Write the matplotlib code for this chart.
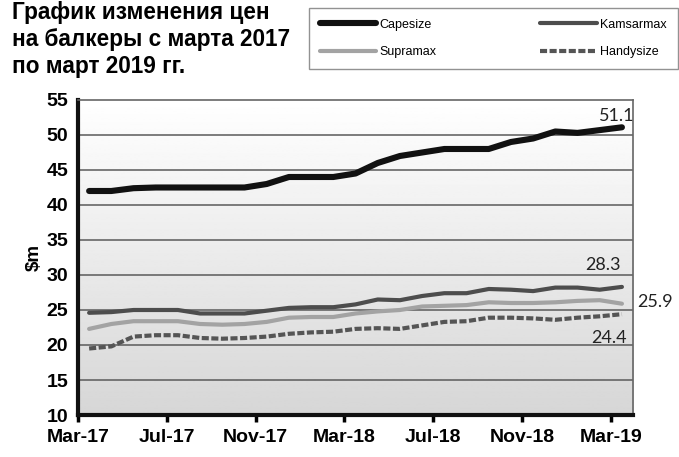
import numpy as np
import matplotlib
matplotlib.use('Agg')
from matplotlib import pyplot as plt

# months since Mar-17 (points sit mid-month)
months = np.arange(25) + 0.5
tick_pos = [0, 4, 8, 12, 16, 20, 24]
tick_labels = ['Mar-17', 'Jul-17', 'Nov-17', 'Mar-18', 'Jul-18', 'Nov-18', 'Mar-19']

capesize = [42.0, 42.0, 42.4, 42.5, 42.5, 42.5, 42.5, 42.5, 43.0, 44.0, 44.0, 44.0, 44.5,
            46.0, 47.0, 47.5, 48.0, 48.0, 48.0, 49.0, 49.5, 50.5, 50.3, 50.7, 51.1]
kamsarmax = [24.6, 24.7, 25.0, 25.0, 25.0, 24.5, 24.5, 24.5, 24.9, 25.3, 25.4, 25.4, 25.8,
             26.5, 26.4, 27.0, 27.4, 27.4, 28.0, 27.9, 27.7, 28.2, 28.2, 27.9, 28.3]
supramax = [22.3, 23.0, 23.4, 23.4, 23.4, 23.0, 22.9, 23.0, 23.3, 23.9, 24.0, 24.0, 24.5,
            24.8, 25.0, 25.5, 25.6, 25.7, 26.1, 26.0, 26.0, 26.1, 26.3, 26.4, 25.9]
handysize = [19.5, 19.8, 21.2, 21.4, 21.4, 21.0, 20.9, 21.0, 21.2, 21.6, 21.8, 21.9, 22.3,
             22.4, 22.3, 22.8, 23.3, 23.4, 23.9, 23.9, 23.8, 23.6, 23.9, 24.1, 24.4]

title = 'График изменения цен\nна балкеры с марта 2017\nпо март 2019 гг.'

plt.rcParams['font.family'] = ['Liberation Sans', 'DejaVu Sans']

fig = plt.figure(figsize=(6.79, 4.57), dpi=100)
ax = fig.add_axes([0.1149, 0.0919, 0.8174, 0.6893])

# plot area gradient, white on top to light gray at the bottom
grad = np.linspace(1.0, 0.84, 256).reshape(-1, 1)
ax.imshow(grad, extent=[0, 25, 10, 55], aspect='auto', cmap='gray', vmin=0, vmax=1,
          origin='upper', zorder=0)

for y in range(15, 55, 5):
    ax.axhline(y, color='#5a5a5a', lw=1.1, zorder=1)

l_cape, = ax.plot(months, capesize, color='#111111', lw=4.4, solid_capstyle='round', label='Capesize', zorder=5)
l_kams, = ax.plot(months, kamsarmax, color='#4d4d4d', lw=3.0, solid_capstyle='round', label='Kamsarmax', zorder=4)
l_supr, = ax.plot(months, supramax, color='#a3a3a3', lw=3.0, solid_capstyle='round', label='Supramax', zorder=3)
l_handy, = ax.plot(months, handysize, color='#555555', lw=3.0, ls=(0, (1.7, 0.6)), label='Handysize', zorder=3)

ax.set_xlim(0, 25)
ax.set_ylim(10, 55)
ax.set_yticks(range(10, 60, 5))
ax.set_xticks(tick_pos)
ax.set_xticklabels(tick_labels)
ax.tick_params(axis='x', direction='out', length=5, width=2.5, pad=5, labelsize=14)
ax.tick_params(axis='y', length=0, pad=7, labelsize=14)
for lab in ax.get_xticklabels() + ax.get_yticklabels():
    lab.set_fontweight('bold')

for side in ['left', 'bottom']:
    ax.spines[side].set_linewidth(3)
    ax.spines[side].set_color('#111111')
for side in ['top', 'right']:
    ax.spines[side].set_linewidth(1.2)
    ax.spines[side].set_color('#666666')

ax.set_ylabel('$m', fontsize=13.5, fontweight='bold', labelpad=3)

# end-of-series labels
lab_font = dict(fontsize=13, family=['Lato', 'DejaVu Sans'], color='#222222')
ax.annotate(f'{capesize[-1]}', (months[-1], capesize[-1]), xytext=(-4, 8), textcoords='offset points',
            ha='center', va='center', **lab_font)
ax.annotate(f'{kamsarmax[-1]}', (months[-1], kamsarmax[-1]), xytext=(-14, 16), textcoords='offset points',
            ha='center', va='center', **lab_font)
ax.annotate(f'{supramax[-1]}', (months[-1], supramax[-1]), xytext=(11, 1), textcoords='offset points',
            ha='left', va='center', annotation_clip=False, **lab_font)
ax.annotate(f'{handysize[-1]}', (months[-1], handysize[-1]), xytext=(-9, -17), textcoords='offset points',
            ha='center', va='center', **lab_font)

fig.text(0.018, 0.998, title, ha='left', va='top', fontsize=16.3, fontweight='bold',
         linespacing=1.22)

fig.legend([l_cape, l_supr, l_kams, l_handy], ['Capesize', 'Supramax', 'Kamsarmax', 'Handysize'],
           loc='upper left', bbox_to_anchor=(0.455, 0.982), ncol=2, fontsize=9,
           frameon=True, fancybox=False, edgecolor='#777777', handlelength=4.5,
           columnspacing=8.3, handletextpad=0.3, borderpad=0.85, labelspacing=1.25,
           borderaxespad=0)

fig.savefig('out.png', dpi=100)
